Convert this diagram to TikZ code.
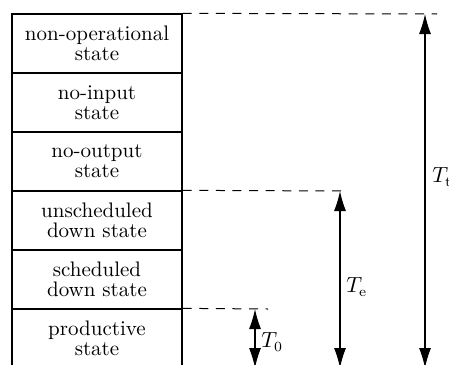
\documentclass[tikz,border=0pt]{standalone}
\usetikzlibrary{arrows.meta}
\begin{document}
\begin{tikzpicture}[x=0.5pt,y=-0.5pt,
  staterow/.style={draw,line width=0.65pt,minimum width=85pt,minimum height=29.5pt,
    inner sep=0pt,align=center,font=\fontsize{10.5}{10}\selectfont},
  guide/.style={line width=0.5pt,dash pattern=on 4.5pt off 3.8pt},
  dimarrow/.style={line width=0.55pt,{Latex[length=10pt,width=6pt]}-{Latex[length=10pt,width=6pt]}},
  dimlabel/.style={anchor=west,inner sep=0pt,font=\fontsize{10.5}{12}\selectfont}]
\useasboundingbox (0,0) rectangle (449,364);
\clip (0,0) rectangle (449,364);
\node[staterow] (r1) at (97,43.5)  {non-operational\\state};
\node[staterow] (r2) at (97,102.5) {no-input\\state};
\node[staterow] (r3) at (97,161.5) {no-output\\state};
\node[staterow] (r4) at (97,220.5) {unscheduled\\down state};
\node[staterow] (r5) at (97,279.5) {scheduled\\down state};
\node[staterow] (r6) at (97,338.5) {productive\\state};
% guide ends
\coordinate (g1) at (437,14);
\coordinate (g2) at (348,191);
\coordinate (g3) at (268,309);
\draw[guide] (r1.north east) -- (g1);
\draw[guide] (r4.north east) -- (g2);
\draw[guide] (r6.north east) -- (g3);
% arrows
\coordinate (tt1) at (425,14);
\coordinate (tt2) at (425,368);
\coordinate (te1) at (340,191);
\coordinate (te2) at (340,368);
\coordinate (t01) at (255,309);
\coordinate (t02) at (255,368);
\draw[dimarrow] (tt1) -- (tt2);
\draw[dimarrow] (te1) -- (te2);
\draw[dimarrow] (t01) -- (t02);
\node[dimlabel] (ltt) at (432,177) {$T_{\mathrm{t}}$};
\node[dimlabel] (lte) at (346,287) {$T_{\mathrm{e}}$};
\node[dimlabel] (lt0) at (261,342) {$T_0$};
\end{tikzpicture}
\end{document}
